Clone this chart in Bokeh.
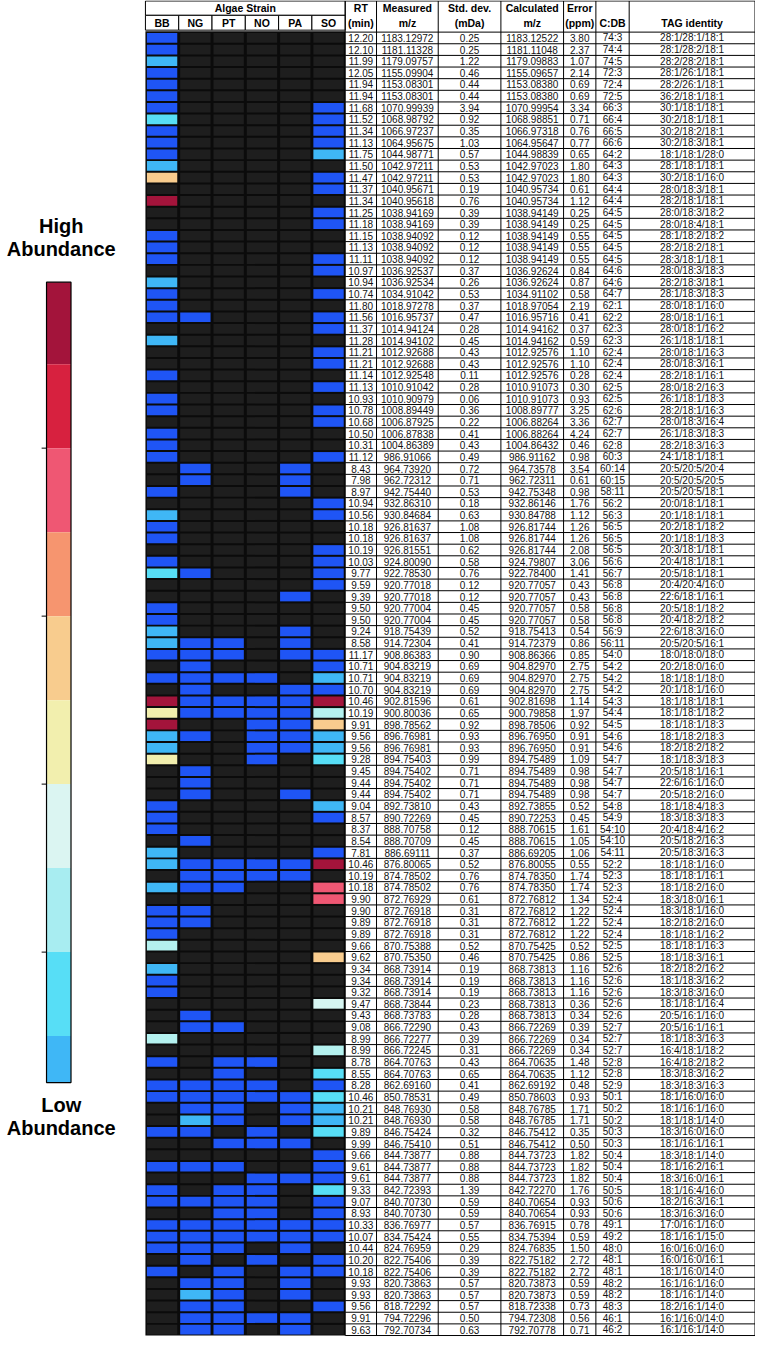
from bokeh.plotting import figure
from bokeh.models import Range1d, ColumnDataSource
from bokeh.core.properties import value
from bokeh.embed import file_html
from bokeh.resources import INLINE

# ---------------- data ----------------
strains = ["BB", "NG", "PT", "NO", "PA", "SO"]

rt = [12.20, 12.10, 11.99, 12.05, 11.94, 11.94, 11.68, 11.52, 11.34, 11.13,
      11.75, 11.50, 11.47, 11.37, 11.34, 11.25, 11.18, 11.15, 11.13, 11.11,
      10.97, 10.94, 10.74, 11.80, 11.56, 11.37, 11.28, 11.21, 11.21, 11.14,
      11.13, 10.93, 10.78, 10.68, 10.50, 10.31, 11.12, 8.43, 7.98, 8.97,
      10.94, 10.56, 10.18, 10.18, 10.19, 10.03, 9.77, 9.59, 9.39, 9.50,
      9.50, 9.24, 8.58, 11.17, 10.71, 10.71, 10.70, 10.46, 10.19, 9.91,
      9.56, 9.56, 9.28, 9.45, 9.44, 9.44, 9.04, 8.57, 8.37, 8.54,
      7.81, 10.46, 10.19, 10.18, 9.90, 9.90, 9.89, 9.89, 9.66, 9.62,
      9.34, 9.34, 9.32, 9.47, 9.43, 9.08, 8.99, 8.99, 8.78, 8.55,
      8.28, 10.46, 10.21, 10.21, 9.89, 9.99, 9.66, 9.61, 9.61, 9.33,
      9.07, 8.93, 10.33, 10.07, 10.44, 10.20, 10.18, 9.93, 9.93, 9.56,
      9.91, 9.63]

measured_mz = [1183.12972, 1181.11328, 1179.09757, 1155.09904, 1153.08301, 1153.08301, 1070.99939, 1068.98792, 1066.97237, 1064.95675,
               1044.98771, 1042.97211, 1042.97211, 1040.95671, 1040.95618, 1038.94169, 1038.94169, 1038.94092, 1038.94092, 1038.94092,
               1036.92537, 1036.92534, 1034.91042, 1018.97278, 1016.95737, 1014.94124, 1014.94102, 1012.92688, 1012.92688, 1012.92548,
               1010.91042, 1010.90979, 1008.89449, 1006.87925, 1006.87838, 1004.86389, 986.91066, 964.73920, 962.72312, 942.75440,
               932.86310, 930.84684, 926.81637, 926.81637, 926.81551, 924.80090, 922.78530, 920.77018, 920.77018, 920.77004,
               920.77004, 918.75439, 914.72304, 908.86383, 904.83219, 904.83219, 904.83219, 902.81596, 900.80036, 898.78562,
               896.76981, 896.76981, 894.75403, 894.75402, 894.75402, 894.75402, 892.73810, 890.72269, 888.70758, 888.70709,
               886.69111, 876.80065, 874.78502, 874.78502, 872.76929, 872.76918, 872.76918, 872.76918, 870.75388, 870.75350,
               868.73914, 868.73914, 868.73914, 868.73844, 868.73783, 866.72290, 866.72277, 866.72245, 864.70763, 864.70763,
               862.69160, 850.78531, 848.76930, 848.76930, 846.75424, 846.75410, 844.73877, 844.73877, 844.73877, 842.72393,
               840.70730, 840.70730, 836.76977, 834.75424, 824.76959, 822.75406, 822.75406, 820.73863, 820.73863, 818.72292,
               794.72296, 792.70734]

std_dev = [0.25, 0.25, 1.22, 0.46, 0.44, 0.44, 3.94, 0.92, 0.35, 1.03,
           0.57, 0.53, 0.53, 0.19, 0.76, 0.39, 0.39, 0.12, 0.12, 0.12,
           0.37, 0.26, 0.53, 0.37, 0.47, 0.28, 0.45, 0.43, 0.43, 0.11,
           0.28, 0.06, 0.36, 0.22, 0.41, 0.43, 0.49, 0.72, 0.71, 0.53,
           0.18, 0.63, 1.08, 1.08, 0.62, 0.58, 0.76, 0.12, 0.12, 0.45,
           0.45, 0.52, 0.41, 0.90, 0.69, 0.69, 0.69, 0.61, 0.65, 0.92,
           0.93, 0.93, 0.99, 0.71, 0.71, 0.71, 0.43, 0.45, 0.12, 0.45,
           0.37, 0.52, 0.76, 0.76, 0.61, 0.31, 0.31, 0.31, 0.52, 0.46,
           0.19, 0.19, 0.19, 0.23, 0.28, 0.43, 0.39, 0.31, 0.43, 0.65,
           0.41, 0.49, 0.58, 0.58, 0.32, 0.51, 0.88, 0.88, 0.88, 1.39,
           0.59, 0.59, 0.57, 0.55, 0.29, 0.39, 0.39, 0.57, 0.57, 0.57,
           0.50, 0.63]

calculated_mz = [1183.12522, 1181.11048, 1179.09883, 1155.09657, 1153.08380, 1153.08380, 1070.99954, 1068.98851, 1066.97318, 1064.95647,
                 1044.98839, 1042.97023, 1042.97023, 1040.95734, 1040.95734, 1038.94149, 1038.94149, 1038.94149, 1038.94149, 1038.94149,
                 1036.92624, 1036.92624, 1034.91102, 1018.97054, 1016.95716, 1014.94162, 1014.94162, 1012.92576, 1012.92576, 1012.92576,
                 1010.91073, 1010.91073, 1008.89777, 1006.88264, 1006.88264, 1004.86432, 986.91162, 964.73578, 962.72311, 942.75348,
                 932.86146, 930.84788, 926.81744, 926.81744, 926.81744, 924.79807, 922.78400, 920.77057, 920.77057, 920.77057,
                 920.77057, 918.75413, 914.72379, 908.86366, 904.82970, 904.82970, 904.82970, 902.81698, 900.79858, 898.78506,
                 896.76950, 896.76950, 894.75489, 894.75489, 894.75489, 894.75489, 892.73855, 890.72253, 888.70615, 888.70615,
                 886.69205, 876.80055, 874.78350, 874.78350, 872.76812, 872.76812, 872.76812, 872.76812, 870.75425, 870.75425,
                 868.73813, 868.73813, 868.73813, 868.73813, 868.73813, 866.72269, 866.72269, 866.72269, 864.70635, 864.70635,
                 862.69192, 850.78603, 848.76785, 848.76785, 846.75412, 846.75412, 844.73723, 844.73723, 844.73723, 842.72270,
                 840.70654, 840.70654, 836.76915, 834.75394, 824.76835, 822.75182, 822.75182, 820.73873, 820.73873, 818.72338,
                 794.72308, 792.70778]

error_ppm = [3.80, 2.37, 1.07, 2.14, 0.69, 0.69, 3.34, 0.71, 0.76, 0.77,
             0.65, 1.80, 1.80, 0.61, 1.12, 0.25, 0.25, 0.55, 0.55, 0.55,
             0.84, 0.87, 0.58, 2.19, 0.41, 0.37, 0.59, 1.10, 1.10, 0.28,
             0.30, 0.93, 3.25, 3.36, 4.24, 0.46, 0.98, 3.54, 0.61, 0.98,
             1.76, 1.12, 1.26, 1.26, 2.08, 3.06, 1.41, 0.43, 0.43, 0.58,
             0.58, 0.54, 0.86, 0.85, 2.75, 2.75, 2.75, 1.14, 1.97, 0.92,
             0.91, 0.91, 1.09, 0.98, 0.98, 0.98, 0.52, 0.45, 1.61, 1.05,
             1.06, 0.55, 1.74, 1.74, 1.34, 1.22, 1.22, 1.22, 0.52, 0.86,
             1.16, 1.16, 1.16, 0.36, 0.34, 0.39, 0.34, 0.34, 1.48, 1.12,
             0.48, 0.93, 1.71, 1.71, 0.35, 0.50, 1.82, 1.82, 1.82, 1.76,
             0.93, 0.93, 0.78, 0.59, 1.50, 2.72, 2.72, 0.59, 0.59, 0.73,
             0.56, 0.71]

c_db = ["74:3", "74:4", "74:5", "72:3", "72:4", "72:5", "66:3", "66:4", "66:5", "66:6",
        "64:2", "64:3", "64:3", "64:4", "64:4", "64:5", "64:5", "64:5", "64:5", "64:5",
        "64:6", "64:6", "64:7", "62:1", "62:2", "62:3", "62:3", "62:4", "62:4", "62:4",
        "62:5", "62:5", "62:6", "62:7", "62:7", "62:8", "60:3", "60:14", "60:15", "58:11",
        "56:2", "56:3", "56:5", "56:5", "56:5", "56:6", "56:7", "56:8", "56:8", "56:8",
        "56:8", "56:9", "56:11", "54:0", "54:2", "54:2", "54:2", "54:3", "54:4", "54:5",
        "54:6", "54:6", "54:7", "54:7", "54:7", "54:7", "54:8", "54:9", "54:10", "54:10",
        "54:11", "52:2", "52:3", "52:3", "52:4", "52:4", "52:4", "52:4", "52:5", "52:5",
        "52:6", "52:6", "52:6", "52:6", "52:6", "52:7", "52:7", "52:7", "52:8", "52:8",
        "52:9", "50:1", "50:2", "50:2", "50:3", "50:3", "50:4", "50:4", "50:4", "50:5",
        "50:6", "50:6", "49:1", "49:2", "48:0", "48:1", "48:1", "48:2", "48:2", "48:3",
        "46:1", "46:2"]

tag_identity = ["28:1/28:1/18:1", "28:1/28:2/18:1", "28:2/28:2/18:1", "28:1/26:1/18:1", "28:2/26:1/18:1", "36:2/18:1/18:1", "30:1/18:1/18:1", "30:2/18:1/18:1", "30:2/18:2/18:1", "30:2/18:3/18:1",
                "18:1/18:1/28:0", "28:1/18:1/18:1", "30:2/18:1/16:0", "28:0/18:3/18:1", "28:2/18:1/18:1", "28:0/18:3/18:2", "28:0/18:4/18:1", "28:1/18:2/18:2", "28:2/18:2/18:1", "28:3/18:1/18:1",
                "28:0/18:3/18:3", "28:2/18:3/18:1", "28:1/18:3/18:3", "28:0/18:1/16:0", "28:0/18:1/16:1", "28:0/18:1/16:2", "26:1/18:1/18:1", "28:0/18:1/16:3", "28:0/18:3/16:1", "28:2/18:1/16:1",
                "28:0/18:2/16:3", "26:1/18:1/18:3", "28:2/18:1/16:3", "28:0/18:3/16:4", "26:1/18:3/18:3", "28:2/18:3/16:3", "24:1/18:1/18:1", "20:5/20:5/20:4", "20:5/20:5/20:5", "20:5/20:5/18:1",
                "20:0/18:1/18:1", "20:1/18:1/18:1", "20:2/18:1/18:2", "20:1/18:1/18:3", "20:3/18:1/18:1", "20:4/18:1/18:1", "20:5/18:1/18:1", "20:4/20:4/16:0", "22:6/18:1/16:1", "20:5/18:1/18:2",
                "20:4/18:2/18:2", "22:6/18:3/16:0", "20:5/20:5/16:1", "18:0/18:0/18:0", "20:2/18:0/16:0", "18:1/18:1/18:0", "20:1/18:1/16:0", "18:1/18:1/18:1", "18:1/18:1/18:2", "18:1/18:1/18:3",
                "18:1/18:2/18:3", "18:2/18:2/18:2", "18:1/18:3/18:3", "20:5/18:1/16:1", "22:6/16:1/16:0", "20:5/18:2/16:0", "18:1/18:4/18:3", "18:3/18:3/18:3", "20:4/18:4/16:2", "20:5/18:2/16:3",
                "20:5/18:3/16:3", "18:1/18:1/16:0", "18:1/18:1/16:1", "18:1/18:2/16:0", "18:3/18:0/16:1", "18:3/18:1/16:0", "18:2/18:2/16:0", "18:1/18:1/16:2", "18:1/18:1/16:3", "18:1/18:3/16:1",
                "18:2/18:2/16:2", "18:1/18:3/16:2", "18:3/18:3/16:0", "18:1/18:1/16:4", "20:5/16:1/16:0", "20:5/16:1/16:1", "18:1/18:3/16:3", "16:4/18:1/18:2", "16:4/18:2/18:2", "18:3/18:3/16:2",
                "18:3/18:3/16:3", "18:1/16:0/16:0", "18:1/16:1/16:0", "18:1/18:1/14:0", "18:3/16:0/16:0", "18:1/16:1/16:1", "18:3/18:1/14:0", "18:1/16:2/16:1", "18:3/16:0/16:1", "18:1/16:4/16:0",
                "18:2/16:3/16:1", "18:3/16:3/16:0", "17:0/16:1/16:0", "18:1/16:1/15:0", "16:0/16:0/16:0", "16:0/16:0/16:1", "18:1/16:0/14:0", "16:1/16:1/16:0", "18:1/16:1/14:0", "18:2/16:1/14:0",
                "16:1/16:0/14:0", "16:1/16:1/14:0"]

# abundance code per row, one character per strain (BB NG PT NO PA SO)
# '.' not detected, 'B' detected (lowest), then legend levels from low to high:
# L light blue, C cyan, A light aqua, P pale aqua, Y pale yellow, O light orange,
# R orange, K pink, E red, D dark red
abundance = ["B.....", "B.....", "L.....", "B.....", "B.....", "B.....", "B....B", "C....B", "B....B", "B....B",
             "B....L", "L.....", "O....B", ".....B", "D.....", ".....B", ".....B", "B.....", "B.....", "B....B",
             ".....B", "L.....", "B....B", "B.....", "BB...B", ".....B", "L.....", ".....B", ".....B", "B.....",
             ".....B", "B.....", "B....B", ".....B", "B.....", "B.....", "B....B", ".B..B.", ".B..B.", "B...B.",
             ".....B", "L....B", "B.....", "B.....", ".....B", "B....B", "CB...B", ".....B", "....B.", "B.....",
             "B.....", "L...B.", "LBB.B.", "BBB.BB", ".B...B", "BBBB.L", ".B..BB", "DBBBBD", "YBBBBA", "D..BBO",
             "LB.BBL", "L..BBL", "Y..B.C", ".B....", ".B....", ".B..B.", "B....L", "B....B", "B.....", ".B....",
             "L....B", "LBBBBD", ".BBBB.", "LBB..K", ".....K", "BB....", "BB....", "B.....", "A.....", ".....O",
             "L.....", "B.....", "B.....", ".....P", ".B....", ".BB...", "A.....", ".....A", "B.BB..", "..B..C",
             "BBBB.B", "BBBBBC", ".BB.BL", ".LB.BL", "BB.B.C", "..BBB.", ".....B", "BBB..B", "...BBB", "B.BB.C",
             "BBBB.B", "..BB.B", "BBBBBB", "BBBBBB", "BBB.B.", ".B.B.B", "B.B.BB", ".BB.B.", ".LB.B.", ".BB..B",
             ".BBBB.", ".BB.B."]

# legend colours, high -> low
legend_colors = ["#a3143b", "#d7213f", "#ef5773", "#f6956f", "#f8cc8e",
                 "#f2efae", "#dbf5f2", "#a8edf1", "#57def6", "#3fb7f6"]
code_color = {"B": "#1f55f5", "L": "#3fb7f6", "C": "#57def6", "A": "#b4f1ef",
              "P": "#d6f5f1", "Y": "#f2efae", "O": "#f8cc8e", "R": "#f6956f",
              "K": "#ef5773", "E": "#d7213f", "D": "#a3143b"}

table_headers = [("RT", "(min)"), ("Measured", "m/z"), ("Std. dev.", "(mDa)"),
                 ("Calculated", "m/z"), ("Error", "(ppm)"), ("", "C:DB"), ("", "TAG identity")]

# ---------------- layout (reference pixel space) ----------------
W_REF, H_REF = 771, 1353
FONT = value("Liberation Sans")
heat_left, col_w = 148.0, 34.0
table_edges = [352, 384, 447, 511, 575, 608, 642, 770.5]
row_top, row_h = 32.0, (1351.0 - 32.0) / len(rt)
n = len(rt)

p = figure(width=755, height=1337, output_backend="svg", toolbar_location=None,
           x_range=Range1d(0, W_REF), y_range=Range1d(H_REF, 0),
           min_border=0, background_fill_color="white", border_fill_color="white")
p.axis.visible = False
p.grid.visible = False
p.outline_line_color = None

def row_center(i):
    return row_top + (i + 0.5) * row_h

# ---- heatmap ----
p.quad(left=[heat_left], right=[heat_left + 6 * col_w], top=[row_top - 1], bottom=[row_top + n * row_h],
       fill_color="#0b0b0b", line_color=None)
L, R, T, B, C = [], [], [], [], []
for i, code in enumerate(abundance):
    for j, ch in enumerate(code):
        L.append(heat_left + j * col_w + 1.5)
        R.append(heat_left + (j + 1) * col_w - 1.5)
        T.append(row_top + i * row_h + 1.0)
        B.append(row_top + (i + 1) * row_h - 1.0)
        C.append("#1e1e1e" if ch == "." else code_color[ch])
p.quad(left=L, right=R, top=T, bottom=B, fill_color=C, line_color=None)

# heatmap header
hdr_x0, hdr_x1 = heat_left, heat_left + 6 * col_w
p.quad(left=[hdr_x0], right=[hdr_x1], top=[0.5], bottom=[15], fill_color="white", line_color="black", line_width=1)
p.quad(left=[hdr_x0 + j * col_w for j in range(6)], right=[hdr_x0 + (j + 1) * col_w for j in range(6)],
       top=[15] * 6, bottom=[30] * 6, fill_color="white", line_color="black", line_width=1)
p.text(x=[(hdr_x0 + hdr_x1) / 2], y=[8], text=["Algae Strain"], text_font=FONT, text_font_style="bold",
       text_font_size="10.5px", text_align="center", text_baseline="middle")
p.text(x=[hdr_x0 + (j + 0.5) * col_w for j in range(6)], y=[23] * 6, text=strains, text_font=FONT,
       text_font_style="bold", text_font_size="10.5px", text_align="center", text_baseline="middle")

# ---- table ----
t_left, t_right = table_edges[0], table_edges[-1]
bottom = row_top + n * row_h
p.segment(x0=table_edges, x1=table_edges, y0=[0.5] * len(table_edges), y1=[bottom] * len(table_edges),
          line_color="black", line_width=1)
ys = [row_top + i * row_h for i in range(n + 1)]
p.segment(x0=[t_left] * len(ys), x1=[t_right] * len(ys), y0=ys, y1=ys, line_color="black", line_width=1)
p.segment(x0=[t_left], x1=[t_right], y0=[0.5], y1=[0.5], line_color="black", line_width=1)
# error header sub box
p.segment(x0=[table_edges[4]], x1=[table_edges[5]], y0=[15], y1=[15], line_color="white", line_width=0)

centers = [(table_edges[k] + table_edges[k + 1]) / 2 for k in range(7)]
p.text(x=centers, y=[8] * 7, text=[h[0] for h in table_headers], text_font=FONT, text_font_style="bold",
       text_font_size="10.5px", text_align="center", text_baseline="middle")
p.text(x=centers, y=[23] * 7, text=[h[1] for h in table_headers], text_font=FONT, text_font_style="bold",
       text_font_size="10.5px", text_align="center", text_baseline="middle")

columns = [[f"{v:.2f}" for v in rt], [f"{v:.5f}" for v in measured_mz], [f"{v:.2f}" for v in std_dev],
           [f"{v:.5f}" for v in calculated_mz], [f"{v:.2f}" for v in error_ppm], c_db, tag_identity]
yc = [row_center(i) for i in range(n)]
for k, col in enumerate(columns):
    src = ColumnDataSource(dict(x=[centers[k]] * n, y=yc, t=col))
    p.text(x="x", y="y", text="t", source=src, text_font=FONT, text_font_size="10px",
           text_align="center", text_baseline="middle", text_color="#111111")

# ---- colour legend ----
seg_edges = [285, 368, 453, 538, 623, 708, 793, 878, 963, 1048, 1095]
cb_l, cb_r = 47, 72
p.quad(left=[cb_l] * 10, right=[cb_r] * 10, top=seg_edges[:-1], bottom=seg_edges[1:],
       fill_color=legend_colors, line_color=None)
p.quad(left=[cb_l], right=[cb_r], top=[seg_edges[0]], bottom=[seg_edges[-1]], fill_color=None,
       line_color="black", line_width=1.2)
ticks = [453, 623, 793, 963]
p.segment(x0=[42] * 4, x1=[cb_l] * 4, y0=ticks, y1=ticks, line_color="black", line_width=1)

p.text(x=[62, 62], y=[228, 251], text=["High", "Abundance"], text_font=FONT, text_font_style="bold",
       text_font_size="20px", text_align="center", text_baseline="middle")
p.text(x=[62, 62], y=[1118, 1141], text=["Low", "Abundance"], text_font=FONT, text_font_style="bold",
       text_font_size="20px", text_align="center", text_baseline="middle")

open("out.html", "w").write(file_html(p, INLINE))
